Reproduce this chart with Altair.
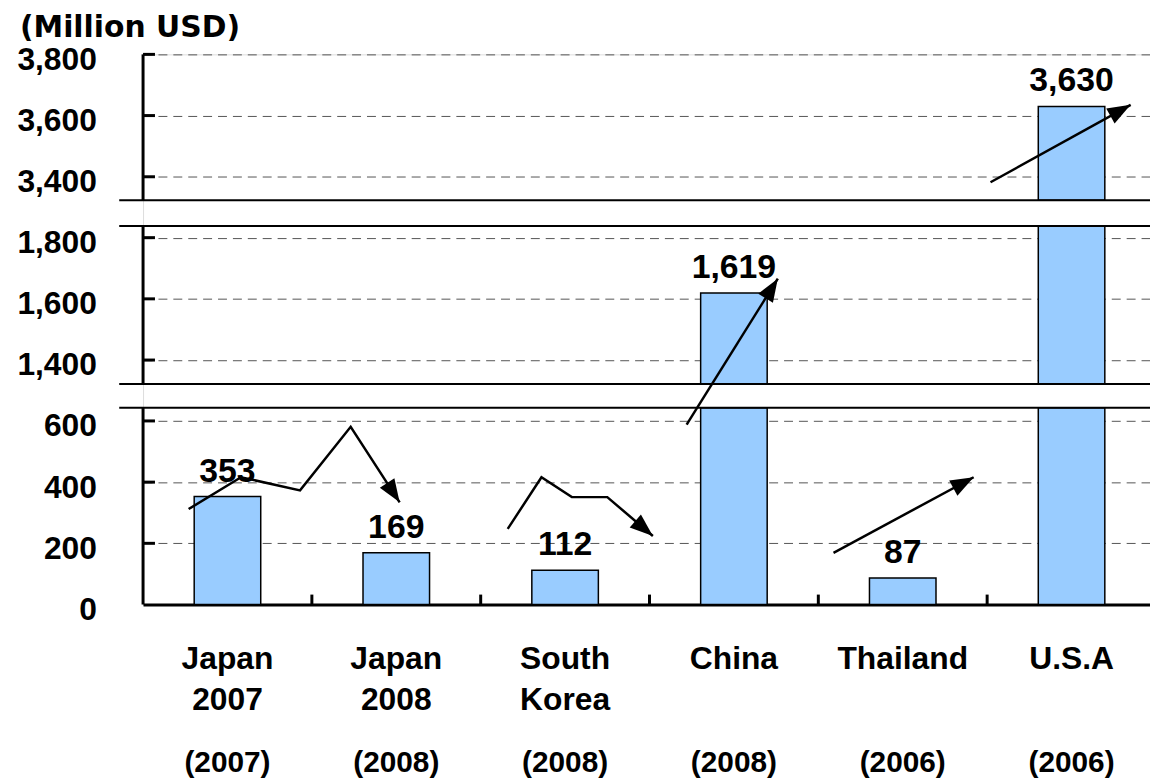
import math
import altair as alt
import pandas as pd

# ---------------- data ----------------
categories = ["Japan 2007", "Japan 2008", "South Korea", "China", "Thailand", "U.S.A"]
years = ["(2007)", "(2008)", "(2008)", "(2008)", "(2006)", "(2006)"]
values = [353, 169, 112, 1619, 87, 3630]

# broken y axis: the three visible value ranges (bottom -> top)
panel_lo = [0, 1322, 3323]
panel_hi = [643, 1838, 3800]
panel_gap = [78, 84]          # blank band between panels, in value units
tick_values = [0, 200, 400, 600, 1400, 1600, 1800, 3400, 3600, 3800]

# trend arrows: arrow id, position in category units (0 = left edge), value
arrow_id = [1, 1, 1, 1, 1, 2, 2, 2, 2, 2, 3, 3, 4, 4, 5, 5]
arrow_x = [0.27, 0.58, 0.93, 1.23, 1.52, 2.16, 2.36, 2.54, 2.75, 3.02,
           3.22, 3.76, 4.09, 4.92, 5.02, 5.85]
arrow_v = [312, 416, 373, 581, 334, 247, 416, 351, 351, 224,
           588, 1666, 169, 416, 3382, 3635]

# ---------------- layout ----------------
W = 1014          # visible plot width
RANGE_W = 1020    # x range (chart is cut at the right edge)
H = 554
FONT = "Liberation Sans"

offs = [0]
for i in range(1, 3):
    offs.append(offs[-1] + (panel_hi[i - 1] - panel_lo[i - 1]) + panel_gap[i - 1])
total_d = offs[2] + panel_hi[2] - panel_lo[2]


def to_d(v):
    for i in reversed(range(3)):
        if v >= panel_lo[i]:
            return offs[i] + min(v, panel_hi[i]) - panel_lo[i]
    return 0


px_y = H / total_d
px_x = RANGE_W / len(categories)

# bar segments per panel
bar_rows = []
for c, v in zip(categories, values):
    for i in range(3):
        if v > panel_lo[i]:
            bar_rows.append(dict(cat=c, d_lo=offs[i],
                                 d_hi=offs[i] + min(v, panel_hi[i]) - panel_lo[i]))
bars_df = pd.DataFrame(bar_rows)

labels_df = pd.DataFrame(dict(cat=categories, d_top=[to_d(v) for v in values],
                              val=values, year=years))

axis_seg_df = pd.DataFrame(dict(lo=offs, hi=[offs[i] + panel_hi[i] - panel_lo[i] for i in range(3)]))
border_df = pd.DataFrame(dict(d=[panel_hi[0] - panel_lo[0], offs[1],
                                 offs[1] + panel_hi[1] - panel_lo[1], offs[2]]))
ytick_df = pd.DataFrame(dict(d=[to_d(v) for v in tick_values if v > 0]))
xtick_df = pd.DataFrame(dict(cat=categories[1:]))

arr_df = pd.DataFrame(dict(aid=arrow_id, xi=arrow_x, d=[to_d(v) for v in arrow_v],
                           k=list(range(len(arrow_id)))))
heads = []
for a in sorted(set(arrow_id)):
    sub = arr_df[arr_df.aid == a]
    p1, p2 = sub.iloc[-2], sub.iloc[-1]
    dxp = (p2.xi - p1.xi) * px_x
    dyp = -(p2.d - p1.d) * px_y
    ang = math.degrees(math.atan2(dxp, -dyp)) % 360
    heads.append(dict(aid=a, xi=p2.xi, d=p2.d, ang=ang))
heads_df = pd.DataFrame(heads)

# ---------------- scales / axes ----------------
label_expr = (
    f"datum.value < {offs[1]} ? format(datum.value + {panel_lo[0] - offs[0]}, ',') : "
    f"datum.value < {offs[2]} ? format(datum.value + {panel_lo[1] - offs[1]}, ',') : "
    f"format(datum.value + {panel_lo[2] - offs[2]}, ',')"
)
y_scale = alt.Scale(domain=[0, total_d], nice=False, zero=False)
y_axis = alt.Axis(
    title=None, values=[to_d(v) for v in tick_values], labelExpr=label_expr,
    labelFont=FONT, labelFontSize=32, labelFontWeight="bold", labelColor="black",
    labelPadding=47, ticks=False, tickSize=0, domain=False, labelOffset=5,
    labelOverlap=False, grid=True, gridDash=[9, 6], gridColor="#555555", gridWidth=1,
)
x_scale = alt.Scale(domain=categories, range=[0, RANGE_W], paddingInner=0, paddingOuter=0)
x_axis = alt.Axis(
    title=None, labelExpr="split(datum.label, ' ')", labelFont=FONT, labelFontSize=32,
    labelFontWeight="bold", labelColor="black", labelLineHeight=42, labelPadding=39,
    labelAngle=0, labelBaseline="top", labelOverlap=False, ticks=False, tickSize=0,
    domainColor="black", domainWidth=3, grid=False,
)


def X():
    return alt.X("cat:N", scale=x_scale, axis=x_axis, sort=categories)


def Y(f):
    return alt.Y(f, scale=y_scale, axis=y_axis)


bars = alt.Chart(bars_df).mark_bar(width=67, fill="#99CCFF", stroke="black", strokeWidth=1.5).encode(
    x=X(), y=Y("d_lo:Q"), y2="d_hi:Q")

yaxis_line = alt.Chart(axis_seg_df).mark_rule(color="black", strokeWidth=3).encode(
    x=alt.value(0), y=Y("lo:Q"), y2="hi:Q")
borders = alt.Chart(border_df).mark_rule(color="black", strokeWidth=2).encode(
    x=alt.value(-24), x2=alt.value(RANGE_W), y=Y("d:Q"))
yticks = alt.Chart(ytick_df).mark_rule(color="black", strokeWidth=3).encode(
    x=alt.value(0), x2=alt.value(12), y=Y("d:Q"))
xticks = alt.Chart(xtick_df).mark_rule(color="black", strokeWidth=3).encode(
    x=alt.X("cat:N", scale=x_scale, axis=x_axis, bandPosition=0),
    y=alt.value(H - 10), y2=alt.value(H))

val_text = alt.Chart(labels_df).mark_text(
    font=FONT, fontSize=34, fontWeight="bold", color="black", baseline="alphabetic", dy=-15
).encode(x=X(), y=Y("d_top:Q"), text=alt.Text("val:Q", format=","))

year_text = alt.Chart(labels_df).mark_text(
    font=FONT, fontSize=30, fontWeight="bold", color="black", baseline="middle"
).encode(x=X(), y=alt.value(H + 160), text="year:N")

xq = alt.X("xi:Q", scale=alt.Scale(domain=[0, len(categories)], range=[0, RANGE_W], nice=False, zero=False), axis=None)
arrow_lines = alt.Chart(arr_df).mark_line(color="black", strokeWidth=2.5).encode(
    x=xq, y=Y("d:Q"), detail="aid:N", order="k:Q")
arrow_heads = alt.Chart(heads_df).mark_point(
    shape="M0,0L-0.45,1.2L0.45,1.2Z", filled=True, color="black", opacity=1, size=1500, strokeWidth=0
).encode(x=xq, y=Y("d:Q"), angle=alt.Angle("ang:Q", scale=None))

band_group = alt.layer(bars, yaxis_line, borders, yticks, xticks)
arrow_group = alt.layer(arrow_lines, arrow_heads)
text_group = alt.layer(val_text, year_text)

chart = alt.layer(alt.layer(band_group, text_group), arrow_group).resolve_scale(x="independent").properties(
    width=W, height=H,
    title=alt.Title("(Million USD)", anchor="start", frame="group", dx=-124, offset=0,
                    font="DejaVu Sans", fontSize=30, fontWeight="bold", color="black"),
    autosize=alt.AutoSizeParams(type="none"),
    padding={"left": 136, "top": 44, "right": 0, "bottom": 173},
).configure_view(stroke=None).configure(background="white")

chart.save("out.html", embed_options={"renderer": "svg", "actions": False})
